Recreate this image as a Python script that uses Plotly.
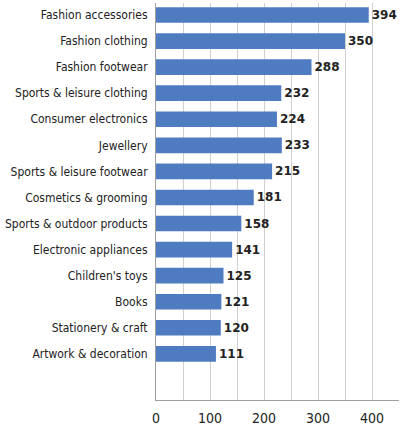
import plotly.graph_objects as go

categories = [
    "Fashion accessories",
    "Fashion clothing",
    "Fashion footwear",
    "Sports & leisure clothing",
    "Consumer electronics",
    "Jewellery",
    "Sports & leisure footwear",
    "Cosmetics & grooming",
    "Sports & outdoor products",
    "Electronic appliances",
    "Children's toys",
    "Books",
    "Stationery & craft",
    "Artwork & decoration",
]
values = [394, 350, 288, 232, 224, 233, 215, 181, 158, 141, 125, 121, 120, 111]
x_ticks = [0, 100, 200, 300, 400]

label_font = "DejaVu Sans Condensed, Liberation Sans Narrow"

fig = go.Figure(
    go.Bar(
        x=values,
        y=categories,
        orientation="h",
        width=0.6,
        marker=dict(color="#4F7CC0", line=dict(width=0)),
        text=[str(v) for v in values],
        textposition="outside",
        textfont=dict(family="DejaVu Sans", size=12, color="#222222", weight="bold"),
        cliponaxis=False,
    )
)

fig.update_layout(
    width=402,
    height=427,
    margin=dict(l=155.5, r=2.5, t=3, b=27),
    paper_bgcolor="white",
    plot_bgcolor="white",
    showlegend=False,
)

fig.update_xaxes(
    range=[0, 450],
    tickvals=x_ticks,
    ticktext=[str(t) for t in x_ticks],
    tickfont=dict(family=label_font, size=14, color="#222222"),
    showgrid=True,
    gridcolor="#CFCFCF",
    gridwidth=1,
    minor=dict(dtick=50, showgrid=True, gridcolor="#CFCFCF", gridwidth=1),
    showline=True,
    linecolor="#A0A0A0",
    linewidth=1,
    ticks="",
    zeroline=False,
    ticklabelstandoff=5,
    automargin=False,
)

fig.update_yaxes(
    type="category",
    categoryorder="array",
    categoryarray=categories,
    range=[14.77, -0.46],
    tickfont=dict(family=label_font, size=12, color="#222222"),
    showgrid=False,
    showline=True,
    linecolor="#A0A0A0",
    linewidth=1,
    ticks="",
    ticklabelstandoff=5,
    automargin=False,
)

fig.write_html("out.html")
